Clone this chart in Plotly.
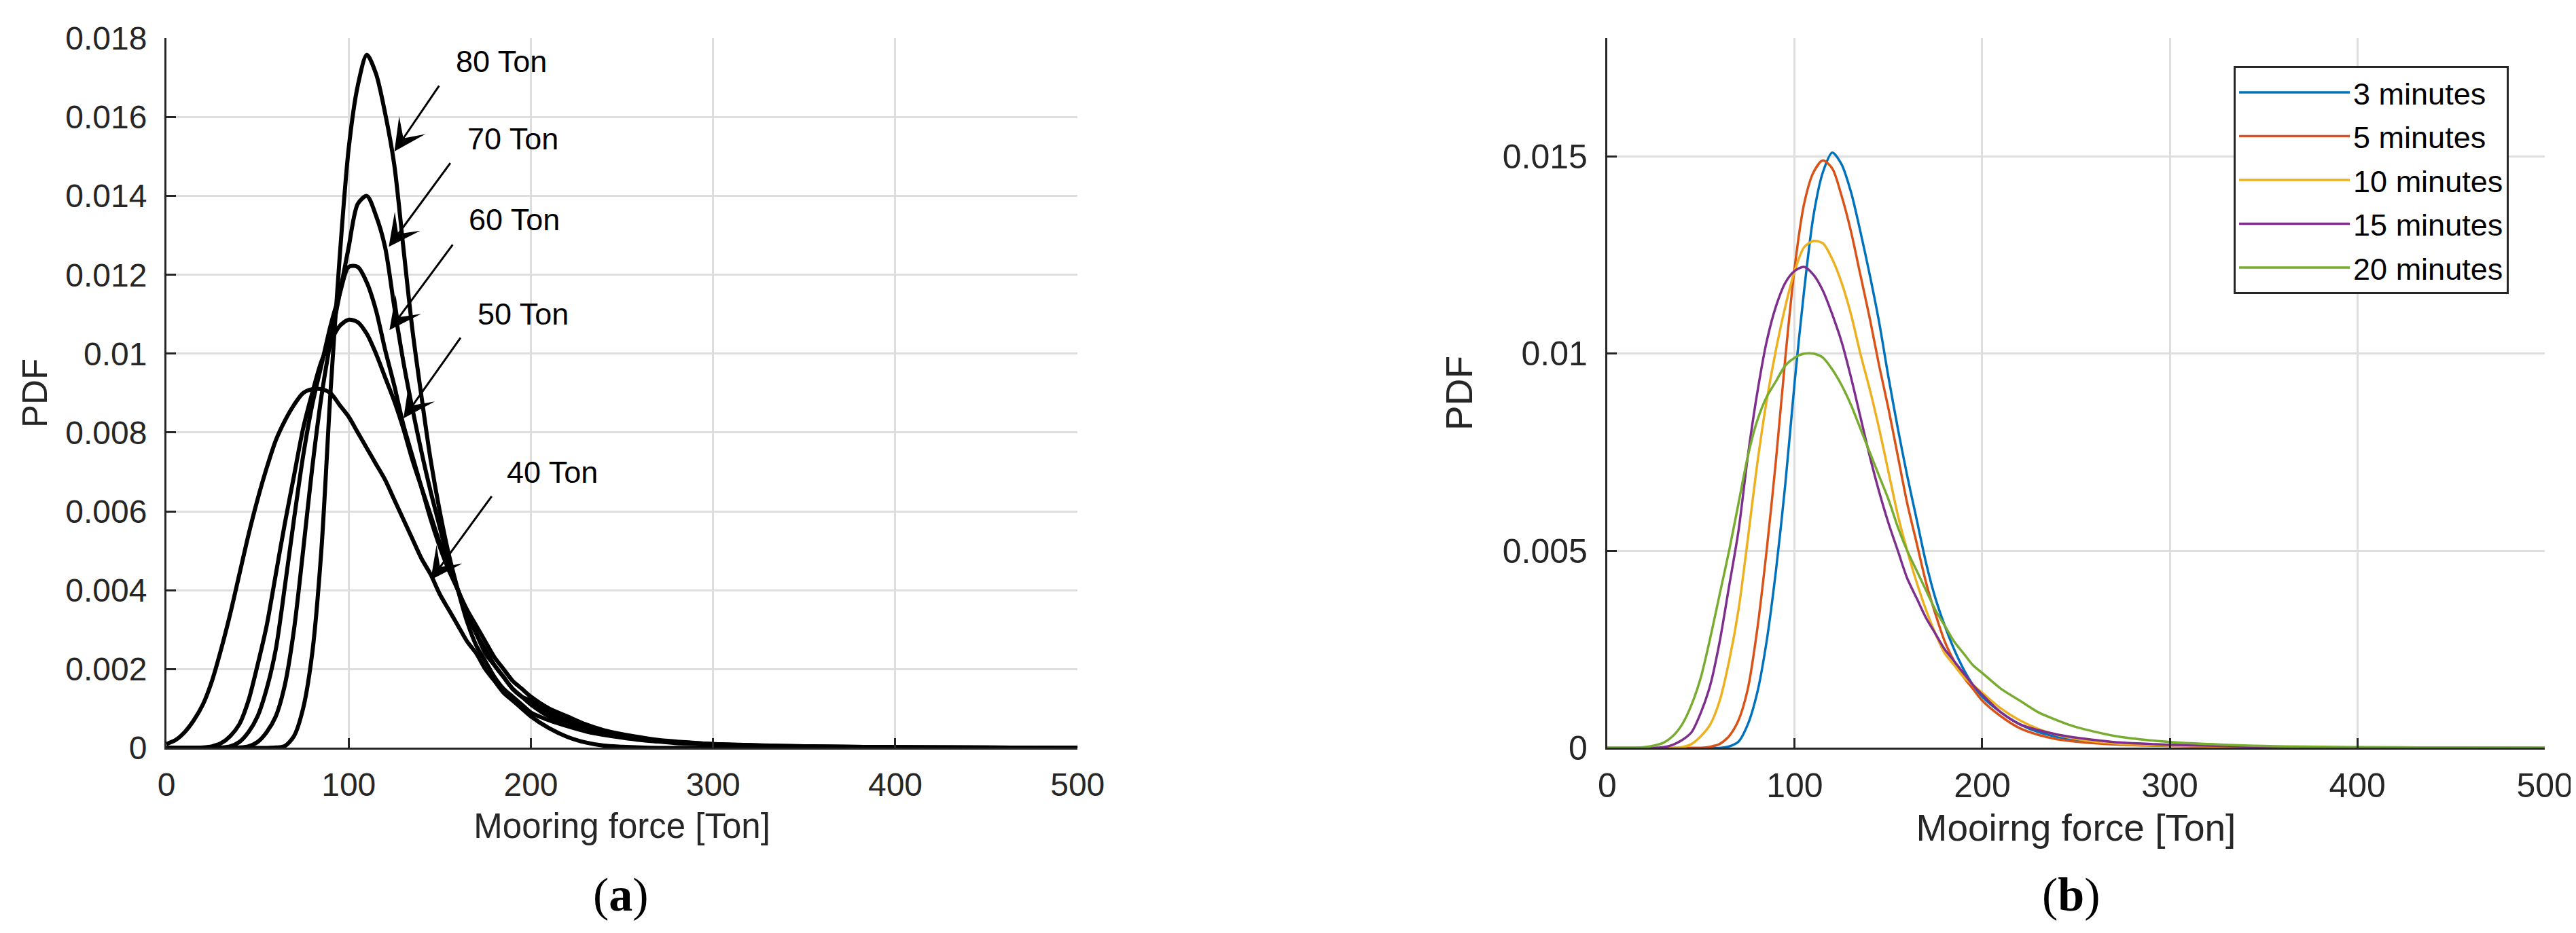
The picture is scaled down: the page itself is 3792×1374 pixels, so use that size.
import plotly.graph_objects as go

# ---------------- data ----------------
force = [0, 5, 10, 15, 20, 25, 30, 35, 40, 45,
         50, 55, 60, 65, 70, 75, 80, 85, 90, 95,
         100, 105, 110, 115, 120, 125, 130, 135, 140, 145,
         150, 155, 160, 165, 170, 175, 180, 185, 190, 195,
         200, 210, 220, 230, 240, 250, 260, 270, 280, 290,
         300, 350, 400, 450, 500]

# panel (a): PDFs for different pretension levels
pdf_40 = [0.0001, 0.0002, 0.0004, 0.0007, 0.0011, 0.0017, 0.0025, 0.0034, 0.0044, 0.0054,
          0.0063, 0.0071, 0.0078, 0.0083, 0.0087, 0.0090, 0.0091, 0.0091, 0.0090, 0.0087,
          0.0084, 0.0080, 0.0076, 0.0072, 0.0068, 0.0063, 0.0058, 0.0053, 0.0048, 0.0044,
          0.0039, 0.0035, 0.0031, 0.0027, 0.0024, 0.0020, 0.0017, 0.0014, 0.0012, 0.0010,
          0.0008, 0.0005, 0.00028, 0.00014, 0.00006, 0.00003, 0.00001, 0, 0, 0,
          0, 0, 0, 0, 0]
pdf_50 = [0, 0, 0, 0, 0.00001, 0.00004, 0.00012, 0.0003, 0.0006, 0.0012,
          0.0021, 0.0031, 0.0044, 0.0057, 0.0069, 0.0081, 0.0090, 0.0098, 0.0103, 0.0107,
          0.01086, 0.0108, 0.0105, 0.0100, 0.0094, 0.0088, 0.0081, 0.0073, 0.0066, 0.0059,
          0.0052, 0.0046, 0.0040, 0.0035, 0.0031, 0.0027, 0.0023, 0.0020, 0.0017, 0.0015,
          0.0013, 0.0010, 0.0008, 0.0006, 0.00045, 0.00035, 0.00027, 0.0002, 0.00016, 0.00013,
          0.0001, 0.00004, 0.00002, 0.00001, 0]
pdf_60 = [0, 0, 0, 0, 0, 0, 0.00001, 0.00004, 0.00015, 0.0004,
          0.0008, 0.0015, 0.0025, 0.0041, 0.0058, 0.0074, 0.0087, 0.0097, 0.0107, 0.0115,
          0.0122, 0.0122, 0.0118, 0.0111, 0.0101, 0.0092, 0.0082, 0.0074, 0.0066, 0.0058,
          0.0051, 0.0045, 0.0040, 0.0034, 0.0029, 0.0025, 0.0021, 0.0018, 0.0015, 0.0013,
          0.0012, 0.0009, 0.0007, 0.00055, 0.00042, 0.00032, 0.00025, 0.00019, 0.00015, 0.00012,
          0.0001, 0.00004, 0.00002, 0.00001, 0]
pdf_70 = [0, 0, 0, 0, 0, 0, 0, 0, 0.00001, 0.00004,
          0.00015, 0.0004, 0.0008, 0.0016, 0.0030, 0.0050, 0.0071, 0.0089, 0.0103, 0.0115,
          0.0127, 0.0138, 0.0140, 0.0135, 0.0127, 0.0112, 0.0098, 0.0086, 0.0075, 0.0065,
          0.0056, 0.0047, 0.0040, 0.0034, 0.0029, 0.0024, 0.0021, 0.0018, 0.0015, 0.0013,
          0.0011, 0.0008, 0.00065, 0.0005, 0.0004, 0.0003, 0.00023, 0.00018, 0.00014, 0.00011,
          0.00009, 0.00003, 0.00001, 0, 0]
pdf_80 = [0, 0, 0, 0, 0, 0, 0, 0, 0, 0,
          0, 0, 0.00001, 0.00005, 0.0003, 0.0010, 0.0024, 0.0050, 0.0090, 0.0124,
          0.0152, 0.0168, 0.01758, 0.0171, 0.0161, 0.0148, 0.0127, 0.0106, 0.0089, 0.0073,
          0.0060, 0.0049, 0.0040, 0.0032, 0.0026, 0.0022, 0.0018, 0.0015, 0.0013, 0.0011,
          0.0009, 0.0007, 0.00055, 0.00042, 0.00033, 0.00026, 0.0002, 0.00016, 0.00012, 0.0001,
          0.00008, 0.00003, 0.00001, 0, 0]

# panel (b): PDFs for different simulation durations
pdf_3min = [0, 0, 0, 0, 0, 0, 0, 0, 0, 0,
            0, 0, 0, 0.00004, 0.00016, 0.0006, 0.0014, 0.0027, 0.0045, 0.0067,
            0.0093, 0.0116, 0.0135, 0.0146, 0.0151, 0.0148, 0.0141, 0.0131, 0.0120, 0.0108,
            0.0094, 0.0081, 0.0069, 0.0058, 0.0047, 0.0038, 0.0031, 0.0025, 0.0020, 0.0016,
            0.0013, 0.0009, 0.0006, 0.0004, 0.00028, 0.0002, 0.00015, 0.00011, 0.00009, 0.00007,
            0.00006, 0.00002, 0.00001, 0, 0]
pdf_5min = [0, 0, 0, 0, 0, 0, 0, 0, 0, 0,
            0, 0.00003, 0.0001, 0.0003, 0.0007, 0.0015, 0.0030, 0.0050, 0.0073, 0.0099,
            0.0122, 0.0138, 0.0146, 0.0149, 0.0147, 0.0140, 0.0131, 0.0120, 0.0109, 0.0097,
            0.0086, 0.0074, 0.0062, 0.0052, 0.0042, 0.0034, 0.0027, 0.0022, 0.0018, 0.0015,
            0.0012, 0.0008, 0.0005, 0.00033, 0.00022, 0.00016, 0.00012, 0.00009, 0.00007, 0.00006,
            0.00005, 0.00002, 0.00001, 0, 0]
pdf_10min = [0, 0, 0, 0, 0, 0, 0, 0, 0.00002, 0.0001,
             0.0003, 0.0006, 0.0012, 0.0022, 0.0035, 0.0053, 0.0072, 0.0088, 0.0101, 0.0112,
             0.0121, 0.0127, 0.01286, 0.0128, 0.0124, 0.0118, 0.0110, 0.0100, 0.0091, 0.0081,
             0.0070, 0.0059, 0.0050, 0.0042, 0.0035, 0.0029, 0.0024, 0.0021, 0.0018, 0.0016,
             0.0014, 0.0010, 0.0007, 0.00048, 0.00033, 0.00023, 0.00016, 0.00012, 0.00009, 0.00007,
             0.00006, 0.00002, 0.00001, 0, 0]
pdf_15min = [0, 0, 0, 0, 0, 0, 0.00002, 0.00008, 0.0002, 0.0004,
             0.0009, 0.0016, 0.0027, 0.0041, 0.0055, 0.0074, 0.0090, 0.0103, 0.0112, 0.0118,
             0.0121, 0.0122, 0.0120, 0.0116, 0.0110, 0.0103, 0.0094, 0.0084, 0.0074, 0.0065,
             0.0057, 0.0050, 0.0043, 0.0038, 0.0033, 0.0029, 0.0025, 0.0022, 0.0019, 0.0016,
             0.00135, 0.0009, 0.0006, 0.00045, 0.00034, 0.00026, 0.0002, 0.00015, 0.00012, 0.0001,
             0.00008, 0.00003, 0.00001, 0, 0]
pdf_20min = [0, 0, 0, 0, 0.00002, 0.00006, 0.00013, 0.0003, 0.0006, 0.0011,
             0.0018, 0.0028, 0.0039, 0.0050, 0.0062, 0.0074, 0.0083, 0.0089, 0.0093, 0.0097,
             0.0099, 0.0100, 0.0100, 0.0099, 0.0096, 0.0092, 0.0087, 0.0081, 0.0075, 0.0069,
             0.0063, 0.0056, 0.0050, 0.0045, 0.0040, 0.0035, 0.0031, 0.0027, 0.0024, 0.0021,
             0.0019, 0.0015, 0.0012, 0.0009, 0.0007, 0.00053, 0.00041, 0.00031, 0.00024, 0.00019,
             0.00015, 0.00005, 0.00002, 0.00001, 0]

tension_labels = ["40 Ton", "50 Ton", "60 Ton", "70 Ton", "80 Ton"]
duration_labels = ["3 minutes", "5 minutes", "10 minutes", "15 minutes", "20 minutes"]

x_ticks = [0, 100, 200, 300, 400, 500]
ya_ticks = [0, 0.002, 0.004, 0.006, 0.008, 0.01, 0.012, 0.014, 0.016, 0.018]
ya_ticktext = ["0", "0.002", "0.004", "0.006", "0.008", "0.01", "0.012", "0.014", "0.016", "0.018"]
yb_ticks = [0, 0.005, 0.01, 0.015]
yb_ticktext = ["0", "0.005", "0.01", "0.015"]

# annotation anchors for panel (a): label position, arrow tail, arrow tip (data units)
label_x = [186, 170, 165, 164.3, 158]
label_y = [0.0070, 0.0110, 0.0134, 0.01545, 0.01742]
tail_x = [178.9, 161.8, 157.5, 156.2, 150]
tail_y = [0.00641, 0.01043, 0.01279, 0.01486, 0.01682]
tip_x = [145, 130.1, 122.4, 122, 125.1]
tip_y = [0.00426, 0.00836, 0.0106, 0.01271, 0.01513]

# ---------------- figure ----------------
FONT = "Liberation Sans, Arial, sans-serif"
SERIF = "Liberation Serif, Times New Roman, serif"
DARK = "#262626"
GRID = "#dedede"

fig = go.Figure()

for name, ys in zip(tension_labels, [pdf_40, pdf_50, pdf_60, pdf_70, pdf_80]):
    fig.add_trace(go.Scatter(x=force, y=ys, name=name, mode="lines",
                             line=dict(color="black", width=6, shape="spline", smoothing=0.8),
                             xaxis="x", yaxis="y", showlegend=False))

colors_b = ["#0072BD", "#D95319", "#EDB120", "#7E2F8E", "#77AC30"]
for name, ys, c in zip(duration_labels, [pdf_3min, pdf_5min, pdf_10min, pdf_15min, pdf_20min], colors_b):
    fig.add_trace(go.Scatter(x=force, y=ys, name=name, mode="lines", legendgroup=name,
                             line=dict(color=c, width=3.5, shape="spline", smoothing=0.8),
                             xaxis="x2", yaxis="y2", showlegend=True))


def axis_style(tick_size, standoff):
    return dict(
        showline=True, linecolor=DARK, linewidth=3,
        ticks="inside", ticklen=14, tickwidth=3, tickcolor=DARK,
        showgrid=True, gridcolor=GRID, gridwidth=3,
        zeroline=False, mirror=False, automargin=False,
        tickfont=dict(family=FONT, size=tick_size, color=DARK),
        ticklabelstandoff=standoff,
    )


fig.update_layout(
    width=3792, height=1374,
    margin=dict(l=0, r=0, t=0, b=0, autoexpand=False),
    paper_bgcolor="white", plot_bgcolor="white",
    font=dict(family=FONT, color=DARK),
    xaxis=dict(domain=[0.0625, 0.4162], range=[0, 500], tickvals=x_ticks,
               title=dict(text="Mooring force [Ton]", font=dict(family=FONT, size=51, color=DARK), standoff=18),
               anchor="y", **axis_style(48, 10)),
    yaxis=dict(domain=[0.2042, 0.9648], range=[0, 0.018], tickvals=ya_ticks, ticktext=ya_ticktext,
               title=dict(text="PDF", font=dict(family=FONT, size=51, color=DARK), standoff=11),
               anchor="x", **axis_style(48, 16)),
    xaxis2=dict(domain=[0.6218, 0.9858], range=[0, 500], tickvals=x_ticks,
                title=dict(text="Mooirng force [Ton]", font=dict(family=FONT, size=55, color=DARK), standoff=16),
                anchor="y2", **axis_style(50, 10)),
    yaxis2=dict(domain=[0.2042, 0.9648], range=[0, 0.018], tickvals=yb_ticks, ticktext=yb_ticktext,
                title=dict(text="PDF", font=dict(family=FONT, size=55, color=DARK), standoff=27),
                anchor="x2", **axis_style(50, 16)),
    legend=dict(x=0.865, y=0.935, xanchor="left", yanchor="top",
                bgcolor="white", bordercolor=DARK, borderwidth=3,
                font=dict(family=FONT, size=45, color="black"),
                itemwidth=163, tracegroupgap=3),
)

annotations = []
for lab, lx, ly, ax_, ay_, tx, ty in zip(tension_labels, label_x, label_y, tail_x, tail_y, tip_x, tip_y):
    annotations.append(dict(x=tx, y=ty, ax=ax_, ay=ay_, xref="x", yref="y", axref="x", ayref="y",
                            text="", showarrow=True, arrowhead=3, arrowsize=2.6, arrowwidth=3,
                            arrowcolor="black", standoff=0, startstandoff=0))
    annotations.append(dict(x=lx, y=ly, xref="x", yref="y", text=lab, showarrow=False,
                            xanchor="left", yanchor="middle",
                            font=dict(family=FONT, size=45, color="black")))

annotations.append(dict(x=0.239, y=0.047, xref="paper", yref="paper", text="(<b>a</b>)",
                        showarrow=False, xanchor="center", yanchor="middle",
                        font=dict(family=SERIF, size=70, color="black")))
annotations.append(dict(x=0.802, y=0.047, xref="paper", yref="paper", text="(<b>b</b>)",
                        showarrow=False, xanchor="center", yanchor="middle",
                        font=dict(family=SERIF, size=70, color="black")))
fig.update_layout(annotations=annotations)

fig.write_html("out.html")
